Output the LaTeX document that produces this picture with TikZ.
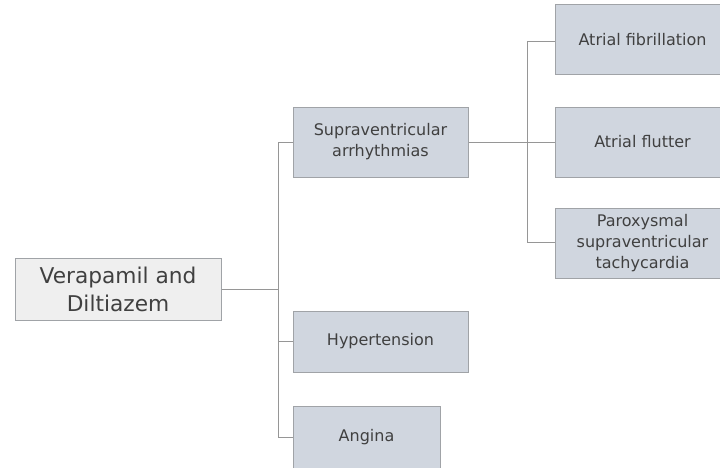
\documentclass[tikz,border=0pt]{standalone}
\usepackage{fontspec}
\setmainfont{DejaVu Sans}
\definecolor{rootfill}{HTML}{EFEFEF}
\definecolor{boxfill}{HTML}{D0D6DF}
\definecolor{boxline}{HTML}{A0A3A7}
\definecolor{txt}{HTML}{404040}
\definecolor{conn}{HTML}{969696}
\begin{document}
\begin{tikzpicture}[x=1pt,y=1pt,
  base/.style={draw=boxline,line width=1pt,text=txt,align=center,inner sep=0pt},
  rootbox/.style={base,fill=rootfill,font=\fontsize{21.7}{28}\selectfont,minimum width=206pt,minimum height=62pt},
  childbox/.style={base,fill=boxfill,font=\fontsize{16}{21}\selectfont,minimum width=175pt,minimum height=70pt},
  conn/.style={draw=conn,line width=1pt}]
\useasboundingbox (0,0) rectangle (720,467);
\clip (0,0) rectangle (720,467);
\node[rootbox] (root) at (118,178) {Verapamil and\\Diltiazem};
\node[childbox] (sva) at (380.5,325) {Supraventricular\\arrhythmias};
\node[childbox,minimum height=61pt] (hyp) at (380.5,125.5) {Hypertension};
\node[childbox,minimum width=147pt,minimum height=62pt] (ang) at (366.5,30) {Angina};
\node[childbox] (af) at (642.5,427.5) {Atrial fibrillation};
\node[childbox] (afl) at (642.5,325) {Atrial flutter};
\node[childbox] (psvt) at (642.5,224) {Paroxysmal\\supraventricular\\tachycardia};
\coordinate (t1) at (278,178);
\coordinate (t2) at (527,325);
% first level
\draw[conn] (root.east) -- (t1);
\draw[conn] (sva.west) -- (sva.west -| t1) -- (ang.west -| t1) -- (ang.west);
\draw[conn] (hyp.west -| t1) -- (hyp.west);
% second level
\draw[conn] (sva.east) -- (afl.west);
\draw[conn] ([yshift=-2pt]af.west) -- ([yshift=-2pt]af.west -| t2) -- ([yshift=1pt]psvt.west -| t2) -- ([yshift=1pt]psvt.west);
\end{tikzpicture}
\end{document}
